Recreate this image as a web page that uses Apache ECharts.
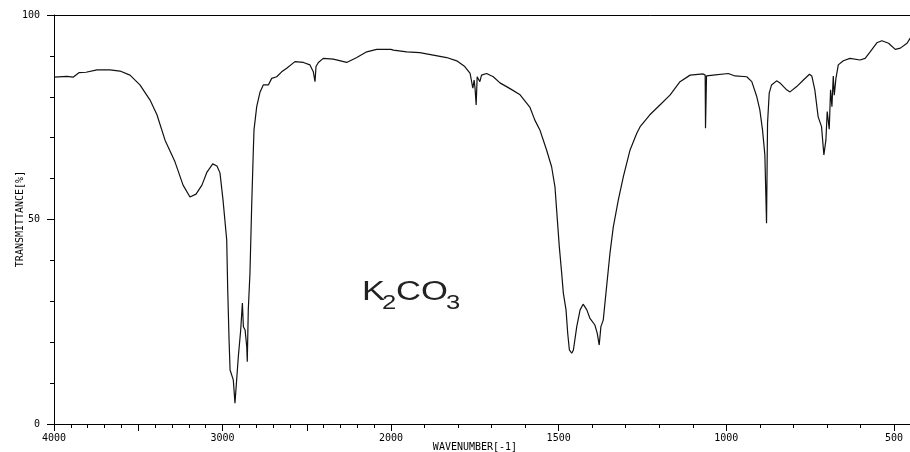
<!DOCTYPE html>
<html>
<head>
<meta charset="utf-8">
<script src="https://cdn.jsdelivr.net/npm/echarts@6.0.0/dist/echarts.min.js"></script>
<style>
  html, body { margin: 0; padding: 0; background: #fff; }
  #main { width: 910px; height: 452px; }
</style>
</head>
<body>
<div id="main"></div>
<script>
// IR spectrum of K2CO3 (wavenumber in cm-1, transmittance in %)
const wavenumber = [
  4000, 3923, 3887, 3852, 3810, 3745, 3668, 3608, 3549, 3490, 3430, 3389, 3341, 3282, 3234,
  3193, 3157, 3122, 3092, 3058, 3033, 3015, 2997, 2975, 2969, 2961, 2955, 2945, 2936, 2926,
  2916, 2906, 2892, 2882, 2876, 2866, 2856, 2853, 2847, 2837, 2827, 2817, 2813, 2797, 2777,
  2758, 2728, 2708, 2678, 2649, 2619, 2570, 2520, 2481, 2461, 2451, 2445, 2431, 2402, 2342,
  2263, 2203, 2144, 2085, 2000,
  1993, 1953, 1914, 1874, 1834, 1804, 1780, 1764, 1756, 1752, 1749, 1746, 1743, 1738, 1735,
  1730, 1715, 1695, 1675, 1645, 1615, 1586, 1571, 1556, 1536, 1521, 1511, 1506, 1498, 1491,
  1486, 1478, 1473, 1468, 1461, 1456, 1446, 1436, 1427, 1416, 1407, 1392, 1385, 1379, 1374,
  1367, 1357, 1347, 1337, 1322, 1307, 1287, 1267, 1257, 1228, 1198, 1168, 1138, 1108, 1069,
  1063, 1062, 1059, 1039, 994, 974, 939, 924, 909, 900, 892, 885, 880, 877, 872,
  865, 850, 840, 820, 810, 790, 770, 752, 745, 736, 726, 716, 709, 703, 699,
  693, 689, 685, 681, 678, 673, 666, 651, 631, 601, 586, 571, 551, 536, 516,
  496, 481, 461, 451
];
const transmittance = [
  84.8, 85.0, 84.8, 85.9, 86.0, 86.6, 86.6, 86.3, 85.3, 82.9, 79.2, 75.6, 69.4, 64.1, 58.4,
  55.5, 56.2, 58.4, 61.6, 63.6, 63.1, 61.4, 54.8, 45.0, 32.8, 20.5, 13.2, 12.8, 10.8, 5.1,
  5.1, 16.5, 23.0, 29.6, 23.8, 23.0, 18.9, 15.2, 27.9, 36.9, 53.1, 67.0, 71.9, 77.6, 81.2,
  82.9, 82.9, 84.5, 84.9, 86.1, 87.0, 88.6, 88.4, 87.8, 86.1, 83.7, 87.4, 88.4, 89.4, 89.2,
  88.4, 89.6, 91.0, 91.6, 91.6,
  91.4, 91.0, 90.8, 90.2, 89.6, 88.8, 87.4, 85.7, 82.1, 84.1, 81.7, 78.0, 84.9, 85.3, 83.7,
  85.3, 85.7, 84.9, 83.4, 82.0, 80.5, 77.5, 74.3, 71.9, 67.0, 62.9, 58.0, 52.3, 43.3, 36.9,
  32.0, 27.9, 22.2, 18.1, 17.3, 18.1, 23.8, 27.9, 29.3, 27.9, 25.9, 24.2, 22.2, 19.3, 23.8,
  25.4, 33.6, 41.7, 48.2, 54.8, 60.5, 67.0, 71.1, 72.7, 75.6, 78.0, 80.4, 83.7, 85.3, 85.6,
  85.3, 72.3, 85.1, 85.3, 85.7, 85.1, 84.9, 83.7, 80.0, 76.8, 71.9, 65.8, 49.1, 73.5, 80.9,
  82.9, 83.9, 83.4, 81.7, 81.2, 82.5, 84.1, 85.5, 85.1, 81.7, 75.1, 72.7, 65.8, 69.4, 76.4,
  72.1, 81.7, 77.6, 85.1, 80.4, 84.5, 87.8, 88.8, 89.4, 89.0, 89.4, 91.0, 93.2, 93.7, 93.1,
  91.6, 91.9, 93.1, 94.4
];

// the x axis is drawn at half scale above 2000 cm-1, so two grids share the frame.
// the right grid runs on to 0 cm-1 past the edge of the page, which cuts it at ~450.
const highTicks = [4000, 3000, 2000];   // labelled ticks, left part
const lowTicks = [1500, 1000, 500];     // labelled ticks, right part

const highData = [];
const lowData = [];
wavenumber.forEach((w, i) => {
  if (w >= 2000) highData.push([w, transmittance[i]]);
  if (w <= 2000) lowData.push([w, transmittance[i]]);
});

var chartDom = document.getElementById('main');
var myChart = echarts.init(chartDom);
var option;

const monoFont = "'DejaVu Sans Mono', monospace";
const black = '#000';

option = {
  animation: false,
  backgroundColor: '#fff',
  grid: [
    { left: 54, top: 15, width: 337, height: 409, outerBoundsMode: 'none' },
    { left: 391, top: 15, width: 670.6, height: 409, outerBoundsMode: 'none' }
  ],
  xAxis: [
    {
      gridIndex: 0, type: 'value', min: 2000, max: 4000, inverse: true, interval: 500,
      position: 'bottom',
      axisLine: { lineStyle: { color: black, width: 1 } },
      axisTick: { length: 7, lineStyle: { color: black } },
      minorTick: { show: true, splitNumber: 5, length: 4, lineStyle: { color: black } },
      splitLine: { show: false },
      axisLabel: {
        margin: 9, color: black, fontFamily: monoFont, fontSize: 10,
        formatter: v => highTicks.indexOf(v) >= 0 ? String(v) : ''
      }
    },
    {
      gridIndex: 1, type: 'value', min: 0, max: 2000, inverse: true, interval: 500,
      position: 'bottom',
      axisLine: { lineStyle: { color: black, width: 1 } },
      axisTick: { length: 7, lineStyle: { color: black } },
      minorTick: { show: true, splitNumber: 5, length: 4, lineStyle: { color: black } },
      splitLine: { show: false },
      axisLabel: {
        margin: 9, color: black, fontFamily: monoFont, fontSize: 10,
        formatter: v => lowTicks.indexOf(v) >= 0 ? String(v) : ''
      }
    },
    {
      gridIndex: 0, type: 'value', min: 2000, max: 4000, position: 'top',
      axisLine: { lineStyle: { color: black } },
      axisTick: { show: false }, axisLabel: { show: false }, splitLine: { show: false }
    },
    {
      gridIndex: 1, type: 'value', min: 0, max: 2000, position: 'top',
      axisLine: { lineStyle: { color: black } },
      axisTick: { show: false }, axisLabel: { show: false }, splitLine: { show: false }
    }
  ],
  yAxis: [
    {
      gridIndex: 0, type: 'value', min: 0, max: 100, interval: 50,
      axisLine: { show: true, lineStyle: { color: black, width: 1 } },
      axisTick: { show: true, length: 7, lineStyle: { color: black } },
      minorTick: { show: true, splitNumber: 5, length: 4, lineStyle: { color: black } },
      splitLine: { show: false },
      axisLabel: { margin: 14, color: black, fontFamily: monoFont, fontSize: 10 }
    },
    {
      gridIndex: 1, type: 'value', min: 0, max: 100, show: false
    }
  ],
  series: [
    {
      type: 'line', xAxisIndex: 0, yAxisIndex: 0, data: highData,
      showSymbol: false, symbol: 'none',
      lineStyle: { color: '#111', width: 1.2 }
    },
    {
      type: 'line', xAxisIndex: 1, yAxisIndex: 1, data: lowData,
      showSymbol: false, symbol: 'none',
      lineStyle: { color: '#111', width: 1.2 }
    }
  ],
  graphic: [
    {
      type: 'text', x: 20, y: 219, rotation: Math.PI / 2,
      style: {
        text: 'TRANSMITTANCE[%]', fill: black, font: "10px 'DejaVu Sans Mono'",
        textAlign: 'center', textVerticalAlign: 'middle'
      }
    },
    {
      type: 'text', x: 475, y: 447,
      style: {
        text: 'WAVENUMBER[-1]', fill: black, font: "10px 'DejaVu Sans Mono'",
        textAlign: 'center', textVerticalAlign: 'middle'
      }
    },
    {
      type: 'text', x: 362, y: 306, scaleX: 1.28,
      style: { text: 'K', fill: '#222', font: "27px 'Liberation Sans'", textAlign: 'left', textVerticalAlign: 'bottom' }
    },
    {
      type: 'text', x: 382, y: 313, scaleX: 1.28,
      style: { text: '2', fill: '#222', font: "20px 'Liberation Sans'", textAlign: 'left', textVerticalAlign: 'bottom' }
    },
    {
      type: 'text', x: 396, y: 306, scaleX: 1.28,
      style: { text: 'CO', fill: '#222', font: "27px 'Liberation Sans'", textAlign: 'left', textVerticalAlign: 'bottom' }
    },
    {
      type: 'text', x: 446, y: 313, scaleX: 1.28,
      style: { text: '3', fill: '#222', font: "20px 'Liberation Sans'", textAlign: 'left', textVerticalAlign: 'bottom' }
    }
  ]
};

option && myChart.setOption(option);
</script>
</body>
</html>
